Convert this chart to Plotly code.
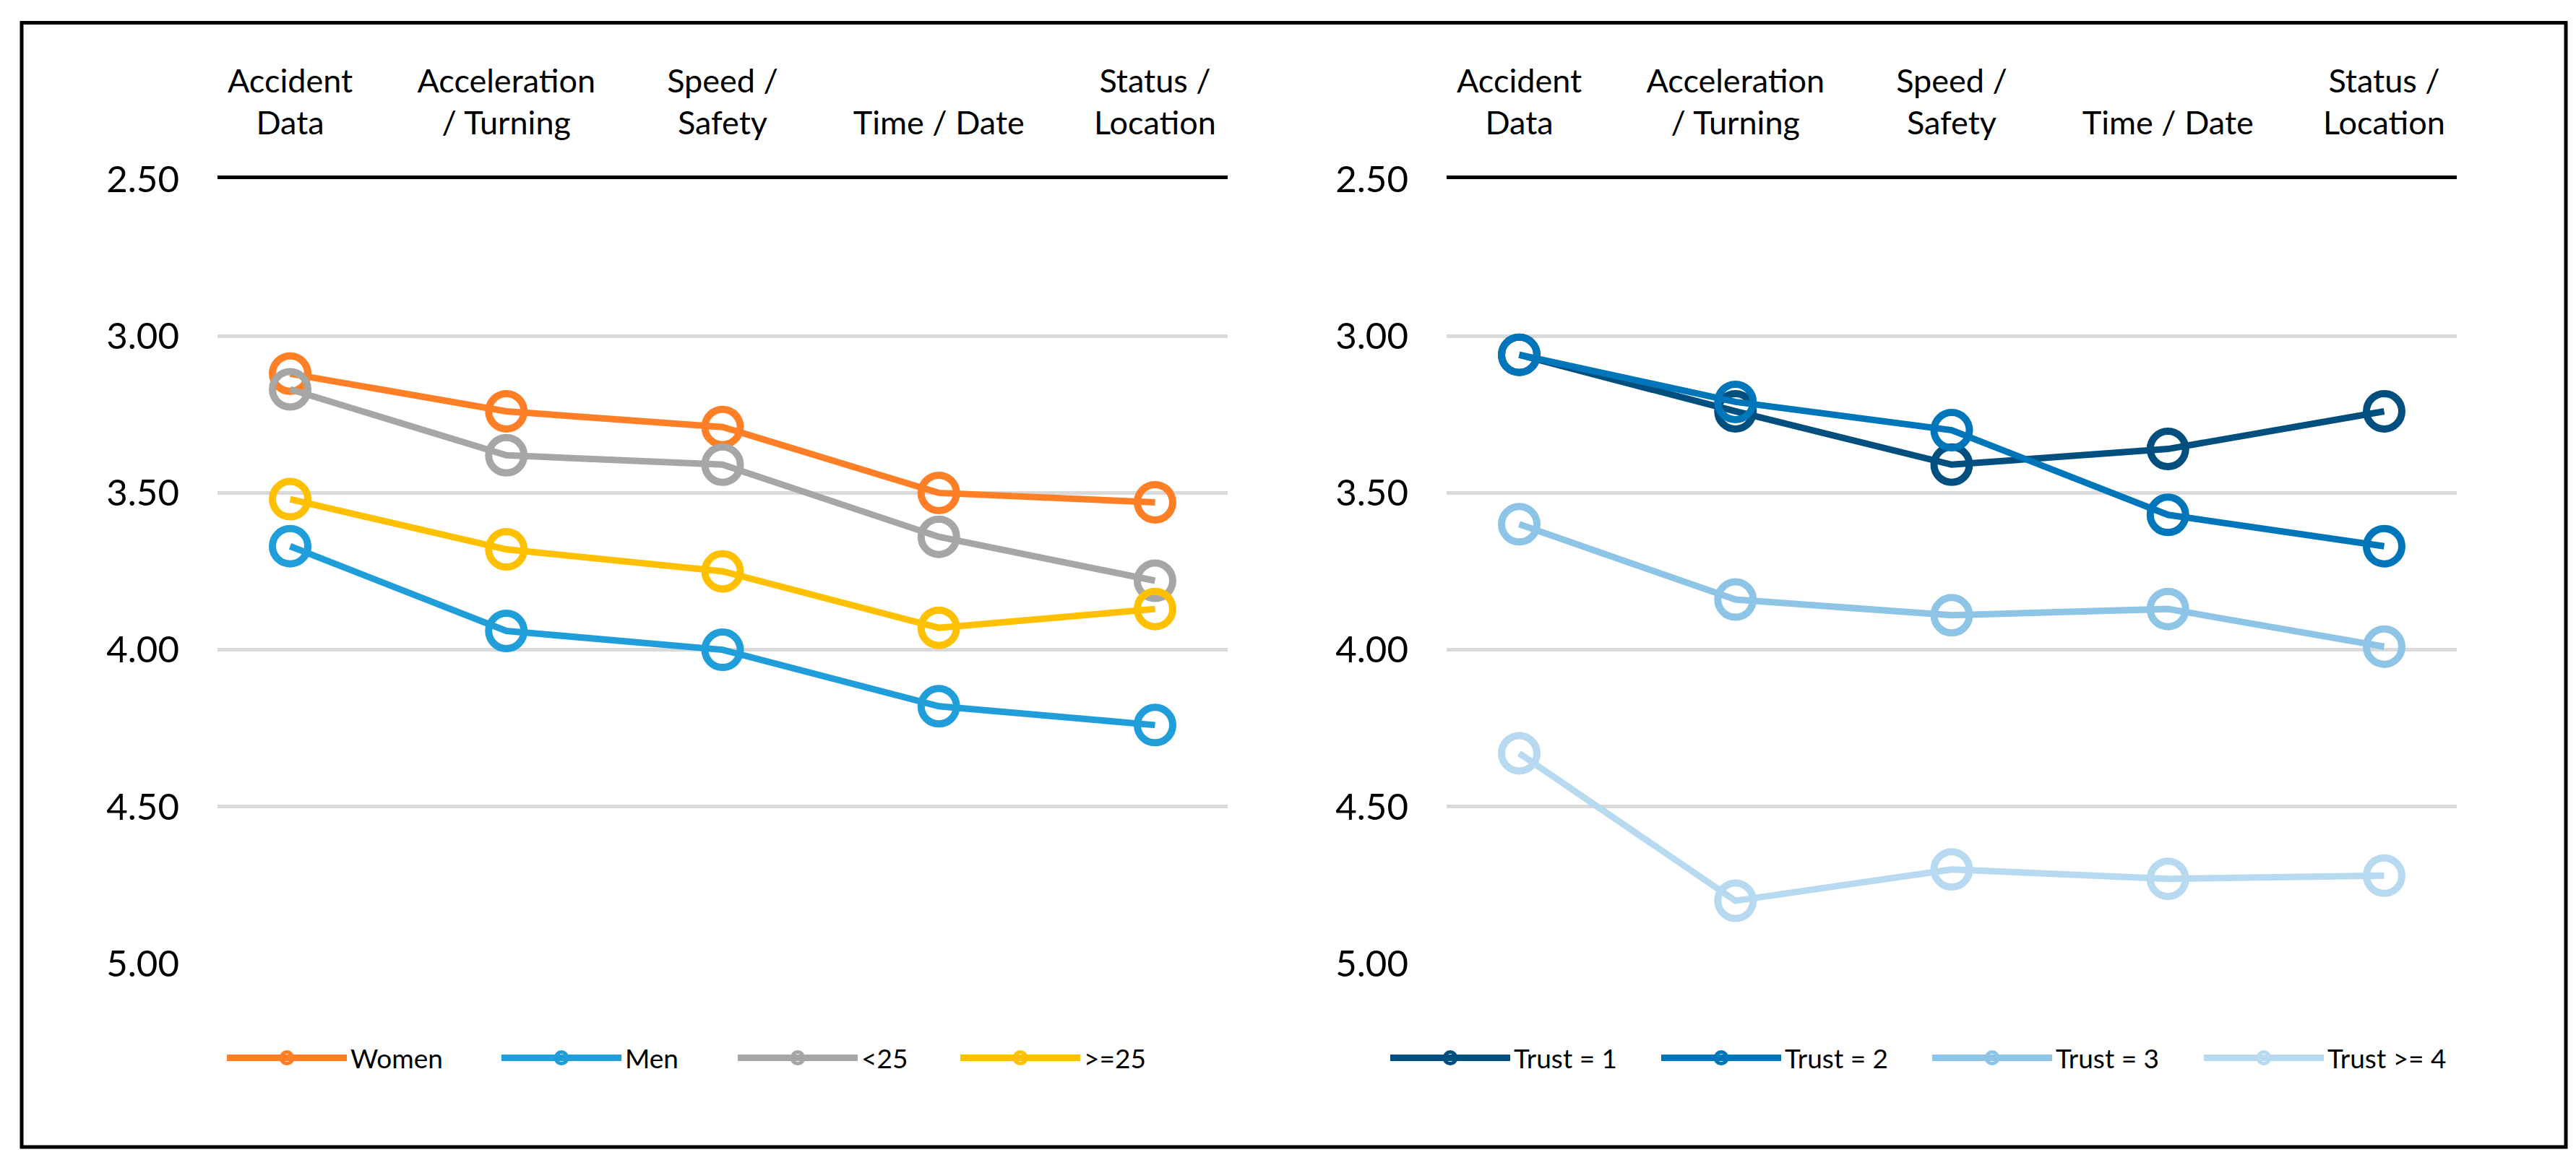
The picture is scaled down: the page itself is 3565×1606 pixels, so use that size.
import plotly.graph_objects as go

W, H = 3565, 1606

categories = ["Accident<br>Data", "Acceleration<br>/ Turning", "Speed /<br>Safety",
              "Time / Date", "Status /<br>Location"]

women = [3.12, 3.24, 3.29, 3.50, 3.53]
men = [3.67, 3.94, 4.00, 4.18, 4.24]
under25 = [3.17, 3.38, 3.41, 3.64, 3.78]
over25 = [3.52, 3.68, 3.75, 3.93, 3.87]

trust1 = [3.06, 3.24, 3.41, 3.36, 3.24]
trust2 = [3.06, 3.21, 3.30, 3.57, 3.67]
trust3 = [3.60, 3.84, 3.89, 3.87, 3.99]
trust4 = [4.33, 4.80, 4.70, 4.73, 4.72]

y_ticks = [2.5, 3.0, 3.5, 4.0, 4.5, 5.0]

left_series = [("Women", women, "#FF7F27"), ("Men", men, "#1F9EDA"),
               ("<25", under25, "#A6A6A6"), (">=25", over25, "#FFC000")]
right_series = [("Trust = 1", trust1, "#004F7E"), ("Trust = 2", trust2, "#0076BA"),
                ("Trust = 3", trust3, "#8EC4E6"), ("Trust >= 4", trust4, "#B7DAF1")]

FONT = "Lato"
fig = go.Figure()

# legend line start positions (px) for each entry
left_leg_px = [306, 686, 1013, 1321]
right_leg_px = [1916, 2291, 2666, 3042]
leg_y = 1 - 1457 / H

legends = {}
n = 0
for (series, xa, ya, legpx) in [(left_series, "x", "y", left_leg_px),
                                (right_series, "x2", "y2", right_leg_px)]:
    for (name, vals, col), px in zip(series, legpx):
        n += 1
        lname = "legend" if n == 1 else f"legend{n}"
        fig.add_trace(go.Scatter(
            x=categories, y=vals, name=name, mode="lines+markers",
            xaxis=xa, yaxis=ya, legend=lname,
            line=dict(color=col, width=9),
            marker=dict(symbol="circle-open", size=49, color=col,
                        line=dict(width=10, color=col)),
        ))
        legends[lname] = dict(
            x=(px - 5) / W, y=leg_y, xanchor="left", yanchor="middle",
            orientation="h", itemwidth=166, borderwidth=0,
            bgcolor="rgba(0,0,0,0)",
            font=dict(family=FONT, size=37, color="#000000"),
        )

xcommon = dict(side="top", type="category", showgrid=False, showline=True,
               linecolor="#000000", linewidth=5, ticks="", ticklabelstandoff=39,
               tickfont=dict(family=FONT, size=45, color="#000000"),
               fixedrange=True, automargin=False)
ycommon = dict(range=[5.0, 2.5], tickvals=y_ticks, tickformat=".2f",
               showgrid=True, gridcolor="#D9D9D9", gridwidth=5,
               showline=False, zeroline=False, ticks="", ticklabelstandoff=52,
               tickfont=dict(family=FONT, size=51, color="#000000"),
               fixedrange=True, automargin=False)

top = 1 - 240 / H
bottom = 1 - 1326 / H

fig.update_layout(
    width=W, height=H,
    margin=dict(l=0, r=0, t=0, b=0, pad=0, autoexpand=False),
    paper_bgcolor="#FFFFFF", plot_bgcolor="#FFFFFF",
    xaxis=dict(domain=[293 / W, 1691 / W], anchor="y", **xcommon),
    yaxis=dict(domain=[bottom, top], anchor="x", **ycommon),
    xaxis2=dict(domain=[1994 / W, 3392 / W], anchor="y2", **xcommon),
    yaxis2=dict(domain=[bottom, top], anchor="x2", **ycommon),
    showlegend=True,
    shapes=[dict(type="rect", xref="paper", yref="paper",
                 x0=22 / W, x1=3543 / W, y0=1 - 1580 / H, y1=1 - 23.5 / H,
                 line=dict(color="#000000", width=5), fillcolor="rgba(0,0,0,0)")],
    **legends,
)

fig.write_html("out.html")
